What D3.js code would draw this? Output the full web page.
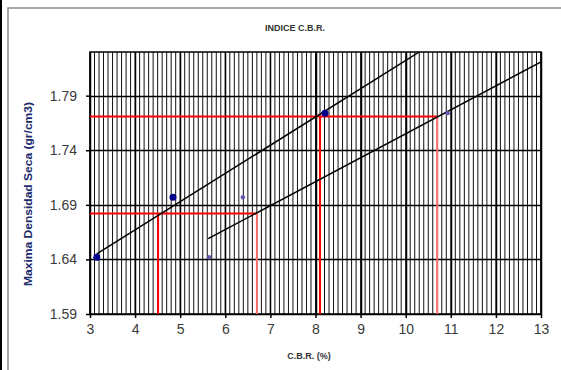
<!DOCTYPE html>
<html>
<head>
<meta charset="utf-8">
<script src="https://cdn.jsdelivr.net/npm/d3@7"></script>
<style>
  body { margin: 0; background: #fff; }
  svg { display: block; font-family: "Liberation Sans", Arial, sans-serif; }
</style>
</head>
<body>
<div id="chart"></div>
<script>
// values
const xTicks = [3, 4, 5, 6, 7, 8, 9, 10, 11, 12, 13];
const yTicks = [1.59, 1.64, 1.69, 1.74, 1.79];
const xDomain = [3, 13];
const yDomain = [1.59, 1.83];

// measured points (two compaction series)
const dens = [1.642, 1.697, 1.774];
const cbr1 = [3.15, 4.84, 8.21];
const cbr2 = [5.64, 6.39, 10.93];

// fitted lines, endpoints as read
const fit1X = [3.15, 10.32];
const fit1Y = [1.645, 1.8305];
const fit2X = [5.62, 13];
const fit2Y = [1.659, 1.821];

// reading lines (95% and 100% density)
const readDens = [1.682, 1.771];
const readCbr1 = [4.51, 8.1];
const readCbr2 = [6.7, 10.7];

const width = 561, height = 370;
const margin = { top: 52, right: 20, bottom: 56, left: 90 };

const svg = d3.select('#chart').append('svg')
  .attr('width', width)
  .attr('height', height);

// outer frame
svg.append('line').attr('x1', 1).attr('x2', 1).attr('y1', 0).attr('y2', height)
  .attr('stroke', '#000').attr('stroke-width', 2);
svg.append('rect').attr('x', 8).attr('y', 8).attr('width', 600).attr('height', 400)
  .attr('fill', 'none').attr('stroke', '#8a8a8a').attr('stroke-width', 1.5);

const x = d3.scaleLinear().domain(xDomain).range([margin.left, width - margin.right]);
const y = d3.scaleLinear().domain(yDomain).range([height - margin.bottom, margin.top]);

const g = svg.append('g');

// minor vertical grid every 0.1
const minor = d3.range(30, 131).map(d => d / 10);
g.selectAll('.vminor').data(minor).enter().append('line')
  .attr('x1', d => x(d)).attr('x2', d => x(d))
  .attr('y1', y(yDomain[0])).attr('y2', y(yDomain[1]))
  .attr('stroke', '#111').attr('stroke-width', 1);

// major vertical lines
g.selectAll('.vmajor').data(xTicks).enter().append('line')
  .attr('x1', d => Math.round(x(d)) + 0.5).attr('x2', d => Math.round(x(d)) + 0.5)
  .attr('y1', y(yDomain[0])).attr('y2', y(yDomain[1]))
  .attr('stroke', '#000').attr('stroke-width', 1.5);

// horizontal grid
g.selectAll('.hgrid').data(yTicks).enter().append('line')
  .attr('x1', x(xDomain[0])).attr('x2', x(xDomain[1]))
  .attr('y1', d => Math.round(y(d)) + 0.5).attr('y2', d => Math.round(y(d)) + 0.5)
  .attr('stroke', '#000').attr('stroke-width', 1.5);

// plot border
g.append('rect')
  .attr('x', x(xDomain[0])).attr('y', y(yDomain[1]))
  .attr('width', x(xDomain[1]) - x(xDomain[0]))
  .attr('height', y(yDomain[0]) - y(yDomain[1]))
  .attr('fill', 'none').attr('stroke', '#000').attr('stroke-width', 1.5);

// axes
const xAxis = svg.append('g')
  .attr('transform', `translate(0,${y(yDomain[0])})`)
  .call(d3.axisBottom(x).tickValues(xTicks).tickSize(4).tickPadding(6).tickFormat(d3.format('d')));
const yAxis = svg.append('g')
  .attr('transform', `translate(${x(xDomain[0])},0)`)
  .call(d3.axisLeft(y).tickValues(yTicks).tickSize(4).tickPadding(9).tickFormat(d3.format('.2f')));
[xAxis, yAxis].forEach(a => {
  a.select('.domain').remove();
  a.selectAll('.tick line').attr('stroke', '#000').attr('stroke-width', 1.5);
  a.selectAll('.tick text').attr('fill', '#3a3a3a').attr('font-size', 14)
    .attr('font-family', '"Liberation Sans", Arial, sans-serif');
});

// clip to plot area
svg.append('clipPath').attr('id', 'plotclip').append('rect')
  .attr('x', x(xDomain[0])).attr('y', y(yDomain[1]))
  .attr('width', x(xDomain[1]) - x(xDomain[0]))
  .attr('height', y(yDomain[0]) - y(yDomain[1]));

const marks = svg.append('g').attr('clip-path', 'url(#plotclip)');

// reading lines
readDens.forEach((d, i) => {
  marks.append('line')
    .attr('x1', x(xDomain[0])).attr('x2', x(readCbr2[i]))
    .attr('y1', y(d)).attr('y2', y(d))
    .attr('stroke', '#ff0000').attr('stroke-width', 2);
  marks.append('line')
    .attr('x1', x(readCbr1[i])).attr('x2', x(readCbr1[i]))
    .attr('y1', y(yDomain[0])).attr('y2', y(d))
    .attr('stroke', '#ff0000').attr('stroke-width', 2);
  marks.append('line')
    .attr('x1', x(readCbr2[i])).attr('x2', x(readCbr2[i]))
    .attr('y1', y(yDomain[0])).attr('y2', y(d))
    .attr('stroke', '#ff6b6b').attr('stroke-width', 2);
});

// fitted lines
const line = d3.line().x(d => x(d[0])).y(d => y(d[1]));
marks.append('path').datum(d3.zip(fit1X, fit1Y)).attr('d', line)
  .attr('fill', 'none').attr('stroke', '#000').attr('stroke-width', 1.5);
marks.append('path').datum(d3.zip(fit2X, fit2Y)).attr('d', line)
  .attr('fill', 'none').attr('stroke', '#000').attr('stroke-width', 1.5);

// points
marks.selectAll('.p1').data(d3.zip(cbr1, dens)).enter().append('circle')
  .attr('cx', d => x(d[0])).attr('cy', d => y(d[1])).attr('r', 3.5)
  .attr('fill', '#00008b');
marks.selectAll('.p2').data(d3.zip(cbr2, dens)).enter().append('circle')
  .attr('cx', d => x(d[0])).attr('cy', d => y(d[1])).attr('r', 2.2)
  .attr('fill', '#6a55b0');

// titles
svg.append('text').attr('x', 295).attr('y', 31).attr('text-anchor', 'middle')
  .attr('font-size', 9).attr('font-weight', 'bold').attr('fill', '#333')
  .text('INDICE C.B.R.');
svg.append('text').attr('x', 309).attr('y', 359).attr('text-anchor', 'middle')
  .attr('font-size', 9).attr('font-weight', 'bold').attr('fill', '#333')
  .text('C.B.R. (%)');
svg.append('text')
  .attr('transform', 'translate(32,194) rotate(-90)')
  .attr('text-anchor', 'middle')
  .attr('font-size', 10.5).attr('font-weight', 'bold').attr('fill', '#1a2a6a')
  .attr('textLength', 184).attr('lengthAdjust', 'spacingAndGlyphs')
  .text('Maxima Densidad Seca (gr/cm3)');
</script>
</body>
</html>
